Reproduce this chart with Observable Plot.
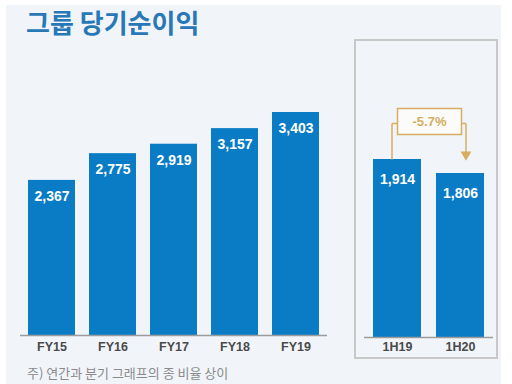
<!DOCTYPE html>
<html>
<head>
<meta charset="utf-8">
<script src="https://cdn.jsdelivr.net/npm/d3@7"></script>
<script src="https://cdn.jsdelivr.net/npm/@observablehq/plot@0.6"></script>
<style>
  html, body { margin: 0; padding: 0; background: #fff; }
  #wrap { position: relative; width: 512px; height: 384px; overflow: hidden; background: #fff; }
  #panel { position: absolute; left: 6px; top: 5px; width: 495px; height: 379px; background: #f1f5fa; }
  #title { position: absolute; left: 26px; top: 3px; font: bold 26px "Noto Sans CJK KR", "Noto Sans", sans-serif; color: #2878b8; white-space: nowrap; }
  #box { position: absolute; left: 354px; top: 39px; width: 144px; height: 320px; border: 2px solid #c8c8c8; box-sizing: border-box; }
  #note { position: absolute; left: 27px; top: 365px; font: 13px/16px "Noto Sans CJK KR", "Noto Sans", sans-serif; color: #8a8a8a; white-space: nowrap; }
  .chart { position: absolute; left: 0; top: 0; }
</style>
</head>
<body>
<div id="wrap">
  <div id="panel"></div>
  <div id="title">그룹 당기순이익</div>
  <div id="box"></div>
  <div id="left" class="chart"></div>
  <div id="right" class="chart"></div>
  <div id="note">주) 연간과 분기 그래프의 종 비율 상이</div>
</div>
<script>
// ---- data ----
const years = ["FY15", "FY16", "FY17", "FY18", "FY19"];
const yearValues = [2367, 2775, 2919, 3157, 3403];
const halves = ["1H19", "1H20"];
const halfValues = [1914, 1806];
const changeLabel = "-5.7%";

// ---- style ----
const barColor = "#0a7cc6";
const axisColor = "#9c9c9c";
const gold = "#d6ad62";
const fmt = d3.format(",");

const yearData = years.map((k, i) => ({k, v: yearValues[i]}));
const halfData = halves.map((k, i) => ({k, v: halfValues[i]}));

const baseStyle = {
  background: "transparent",
  color: "#4a4a4a",
  fontFamily: "'Liberation Sans', Arial, sans-serif",
  fontSize: "12.5px",
  fontWeight: "bold",
  overflow: "visible"
};

// left: annual chart
const left = Plot.plot({
  width: 512, height: 384,
  marginLeft: 20, marginRight: 185, marginTop: 0, marginBottom: 49,
  style: baseStyle,
  x: {domain: years, paddingInner: 0.23, paddingOuter: 0.11, tickSize: 0, tickPadding: 7, label: null},
  y: {domain: [0, d3.max(yearValues)], range: [335, 112], axis: null},
  marks: [
    Plot.barY(yearData, {x: "k", y: "v", fill: barColor}),
    Plot.ruleY([0], {stroke: axisColor, strokeWidth: 1.5}),
    Plot.text(yearData, {x: "k", y: "v", text: d => fmt(d.v), dy: 16, fill: "white", fontSize: 14, fontWeight: "bold"})
  ]
});
document.getElementById("left").appendChild(left);

// right: half-year chart (different vertical ratio)
const yDomR = [540, d3.max(halfValues)];
const yRanR = [337, 159];
const yR = d3.scaleLinear(yDomR, yRanR);
const level = yR.invert(yR(halfValues[0]) - 36);
const tip = yR.invert(yR(halfValues[0]) - 5);
const ann = [{a: halves[0], b: halves[1], va: halfValues[0], vb: halfValues[1], level, tip, label: changeLabel}];

const rectSymbol = {
  draw(ctx) {
    ctx.moveTo(-32, -13); ctx.lineTo(32, -13); ctx.lineTo(32, 13); ctx.lineTo(-32, 13); ctx.closePath();
  }
};

const right = Plot.plot({
  width: 512, height: 384,
  marginLeft: 364, marginRight: 19, marginTop: 0, marginBottom: 47,
  style: baseStyle,
  x: {domain: halves, paddingInner: 0.234, paddingOuter: 0.125, tickSize: 0, tickPadding: 5, label: null},
  y: {domain: yDomR, range: yRanR, axis: null},
  marks: [
    Plot.barY(halfData, {x: "k", y1: yDomR[0], y2: "v", fill: barColor}),
    Plot.ruleY([yDomR[0]], {stroke: axisColor, strokeWidth: 1.5}),
    Plot.text(halfData, {x: "k", y: "v", text: d => fmt(d.v), dy: 20, fill: "white", fontSize: 14, fontWeight: "bold"}),
    Plot.link(ann, {x1: "a", x2: "a", y1: "va", y2: "level", dx: -5.5, stroke: gold, strokeWidth: 1.5}),
    Plot.link(ann, {x1: "a", x2: "b", y1: "level", y2: "level", dx: -5.5, stroke: gold, strokeWidth: 1.5}),
    Plot.link(ann, {x1: "a", x2: "b", y1: "level", y2: "level", dx: 5.5, stroke: gold, strokeWidth: 1.5}),
    Plot.link(ann, {x1: "b", x2: "b", y1: "level", y2: "tip", dx: 5.5, stroke: gold, strokeWidth: 1.5}),
    Plot.dot(ann, {x: "b", y: "tip", dx: 5.5, symbol: "triangle", rotate: 180, r: 4, fill: gold, stroke: "none"}),
    Plot.dot(ann, {x: "a", y: "level", dx: 32, dy: -2, symbol: rectSymbol, fill: "#fbfbfa", stroke: gold, strokeWidth: 1.5}),
    Plot.text(ann, {x: "a", y: "level", dx: 32, dy: -2, text: "label", fill: gold, fontSize: 13, fontWeight: "bold"})
  ]
});
document.getElementById("right").appendChild(right);
</script>
</body>
</html>
